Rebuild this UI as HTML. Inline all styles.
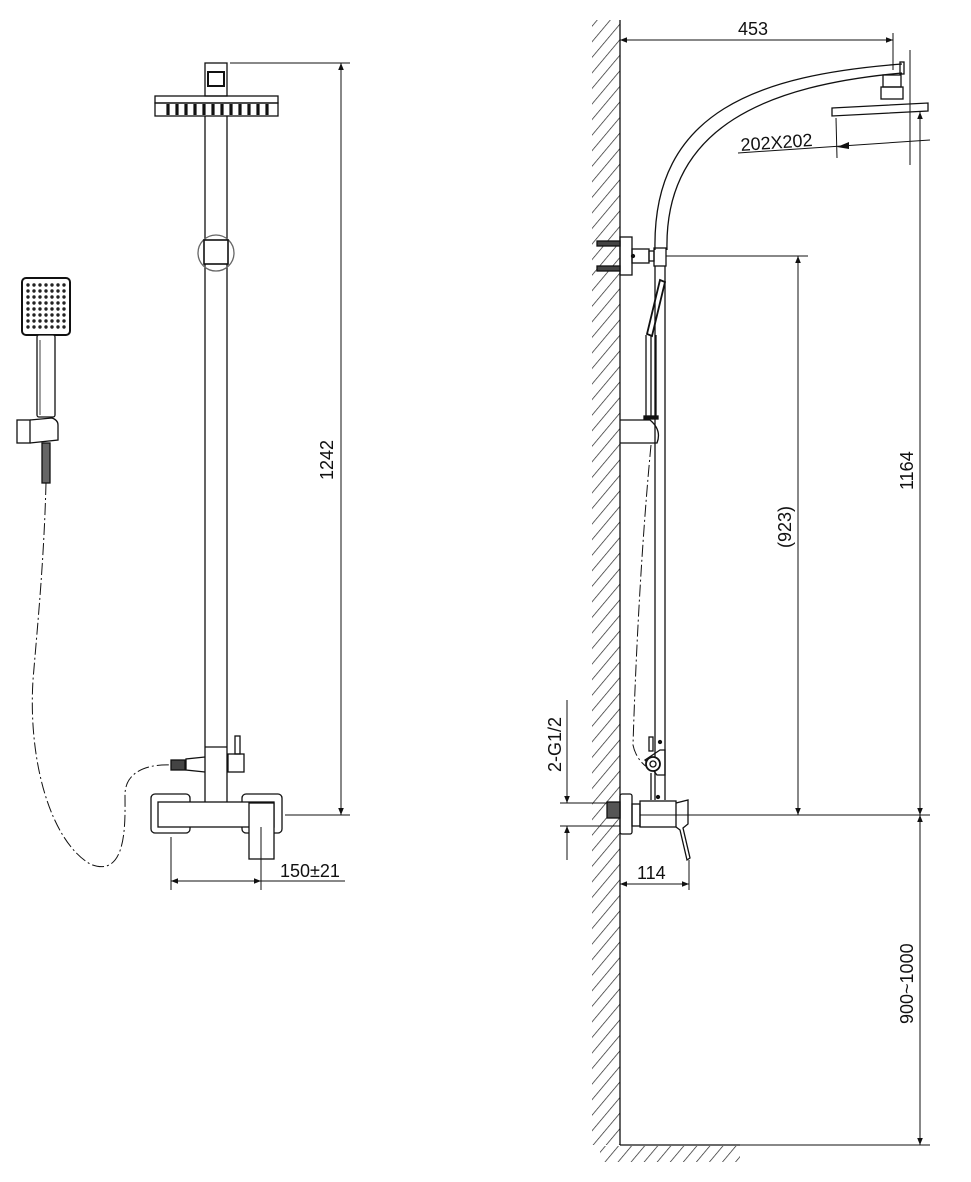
<!DOCTYPE html>
<html><head><meta charset="utf-8"><style>
html,body{margin:0;padding:0;background:#fff}
svg{display:block}
text{font-family:"Liberation Sans",sans-serif;font-size:18px;fill:#111}
</style></head><body>
<svg width="971" height="1182" viewBox="0 0 971 1182" xmlns="http://www.w3.org/2000/svg">
<defs>
<pattern id="h" width="10" height="10" patternUnits="userSpaceOnUse" patternTransform="rotate(40)">
<line x1="0" y1="0" x2="0" y2="10" stroke="#222" stroke-width="1.4"/>
</pattern>
<marker id="a" viewBox="0 0 10 10" refX="10" refY="5" markerWidth="13" markerHeight="7" orient="auto-start-reverse" markerUnits="userSpaceOnUse"><path d="M0,1 L10,5 L0,9z" fill="#111"/></marker>
</defs>
<g fill="none" stroke="#111" stroke-width="1.3">
<!-- LEFT VIEW -->
<rect x="205" y="63" width="22" height="33"/>
<rect x="208" y="72" width="16" height="14" stroke-width="2"/>
<rect x="155" y="96" width="123" height="7"/>
<rect x="155" y="103" width="123" height="13"/>
<g stroke-width="3.2">
<line x1="168" y1="104" x2="168" y2="115"/><line x1="177" y1="104" x2="177" y2="115"/><line x1="186" y1="104" x2="186" y2="115"/><line x1="195" y1="104" x2="195" y2="115"/><line x1="204" y1="104" x2="204" y2="115"/><line x1="213" y1="104" x2="213" y2="115"/><line x1="222" y1="104" x2="222" y2="115"/><line x1="231" y1="104" x2="231" y2="115"/><line x1="240" y1="104" x2="240" y2="115"/><line x1="249" y1="104" x2="249" y2="115"/><line x1="258" y1="104" x2="258" y2="115"/><line x1="267" y1="104" x2="267" y2="115"/>
</g>
<line x1="205" y1="116" x2="205" y2="802"/><line x1="227" y1="116" x2="227" y2="802"/>
<circle cx="216" cy="253" r="18" stroke="#666"/>
<rect x="204" y="240" width="24" height="24" fill="#fff" stroke-width="1.6"/>
<line x1="205" y1="747" x2="227" y2="747"/>
<rect x="228" y="754" width="16" height="18"/>
<rect x="235" y="736" width="5" height="18"/>
<path d="M205,757 L186,759 L186,770 L205,772"/>
<rect x="171" y="760" width="14" height="10" fill="#444"/>
<rect x="151" y="794" width="39" height="39" rx="4"/>
<rect x="242" y="794" width="40" height="39" rx="4"/>
<rect x="158" y="802" width="116" height="25" fill="#fff"/>
<rect x="249" y="803" width="25" height="56" fill="#fff"/>
<line x1="261" y1="827" x2="261" y2="890" stroke-width="1"/>
<!-- hand shower -->
<rect x="22" y="278" width="48" height="57" rx="4" stroke-width="2"/>
<g fill="#222" stroke="none">
<g id="row"><circle cx="28" cy="285" r="1.7"/><circle cx="34" cy="285" r="1.7"/><circle cx="40" cy="285" r="1.7"/><circle cx="46" cy="285" r="1.7"/><circle cx="52" cy="285" r="1.7"/><circle cx="58" cy="285" r="1.7"/><circle cx="64" cy="285" r="1.7"/></g>
<use href="#row" y="6"/><use href="#row" y="12"/><use href="#row" y="18"/><use href="#row" y="24"/><use href="#row" y="30"/><use href="#row" y="36"/><use href="#row" y="42"/>
</g>
<rect x="37" y="335" width="18" height="82" rx="2" fill="#fff"/>
<line x1="40" y1="340" x2="40" y2="415" stroke-width="0.8"/>
<rect x="17" y="420" width="13" height="23"/>
<path d="M30,420 L52,418 Q58,420 58,425 L58,440 L30,443"/>
<rect x="42" y="443" width="8" height="40" fill="#666"/>
<path d="M46,483 C44,560 38,620 33,680 C28,760 50,840 90,864 C128,880 125,820 125,795 C125,770 150,764 171,765" stroke-dasharray="12,3,2,3" stroke-width="1"/>
<!-- dims left -->
<g stroke-width="1">
<line x1="230" y1="63" x2="350" y2="63"/>
<line x1="285" y1="815" x2="350" y2="815"/>
<line x1="341" y1="63" x2="341" y2="815" marker-start="url(#a)" marker-end="url(#a)"/>
<line x1="171" y1="837" x2="171" y2="890"/>
<line x1="171" y1="881" x2="261" y2="881" marker-start="url(#a)" marker-end="url(#a)"/>
<line x1="261" y1="881" x2="345" y2="881"/>
</g>
<!-- RIGHT VIEW -->
<rect x="592" y="20" width="28" height="1125" fill="url(#h)" stroke="none"/>
<rect x="600" y="1146" width="140" height="16" fill="url(#h)" stroke="none"/>
<line x1="620" y1="20" x2="620" y2="1145"/>
<line x1="620" y1="1145" x2="740" y2="1145"/>
<!-- arm -->
<path d="M655,250 C652,110 760,75 902,64"/>
<path d="M667,250 C664,125 770,85 902,73"/>
<rect x="900" y="62" width="4" height="12"/>
<rect x="883" y="75" width="18" height="12"/>
<rect x="881" y="87" width="22" height="12"/>
<path d="M832,108 L928,103 L928,111 L832,116z"/>
<!-- bracket -->
<rect x="620" y="237" width="12" height="38"/>
<rect x="597" y="241" width="23" height="5" fill="#444"/>
<rect x="597" y="266" width="23" height="5" fill="#444"/>
<rect x="632" y="249" width="17" height="14"/>
<rect x="649" y="251" width="5" height="10"/>
<rect x="654" y="248" width="12" height="18"/>
<circle cx="633" cy="256" r="1.5" fill="#111"/>
<!-- rail -->
<line x1="655" y1="266" x2="655" y2="800"/><line x1="665" y1="266" x2="665" y2="800"/>
<!-- hand shower side -->
<path d="M660,280 L665,282 L652,336 L647,334z" stroke-width="1.8"/>
<line x1="646" y1="335" x2="646" y2="418"/><line x1="651" y1="335" x2="651" y2="418"/><line x1="656" y1="335" x2="656" y2="418"/>
<rect x="644" y="416" width="14" height="3" fill="#111"/>
<path d="M620,420 L650,420 Q662,430 657,443 L620,443"/>
<path d="M651,445 C640,560 635,680 633,745 C636,760 648,770 652,768" stroke-dasharray="12,3,2,3" stroke-width="1"/>
<rect x="649" y="737" width="4" height="14"/>
<circle cx="660" cy="742" r="1.5" fill="#111"/>
<path d="M645,760 L660,750 L665,750 L665,775 L657,775 Z" fill="none"/>
<circle cx="653" cy="764" r="7" fill="#fff" stroke-width="1.8"/>
<circle cx="653" cy="764" r="3"/>
<line x1="651" y1="773" x2="651" y2="800"/><circle cx="658" cy="797" r="1.5" fill="#111"/>
<!-- valve -->
<rect x="607" y="802" width="13" height="16" fill="#555"/>
<rect x="620" y="794" width="12" height="40" rx="2"/>
<rect x="632" y="804" width="8" height="22"/>
<rect x="640" y="801" width="36" height="26"/>
<path d="M676,803 L688,800 L688,824 L683,828 L690,858 L687,860 L680,830 L676,827"/>
<g stroke-width="1">
<line x1="560" y1="803" x2="607" y2="803"/><line x1="560" y1="826" x2="620" y2="826"/>
<line x1="640" y1="815" x2="930" y2="815"/>
<line x1="567" y1="700" x2="567" y2="803" marker-end="url(#a)"/>
<line x1="567" y1="826" x2="567" y2="860" marker-start="url(#a)"/>
<line x1="620" y1="40" x2="893" y2="40" marker-start="url(#a)" marker-end="url(#a)"/>
<line x1="893" y1="33" x2="893" y2="70"/>
<line x1="738" y1="153" x2="930" y2="140" />
<line x1="836" y1="118" x2="837" y2="158"/>
<path d="M837,147 L849,142 L849,149z" fill="#111" stroke="none"/>
<line x1="910" y1="50" x2="910" y2="165"/>
<line x1="920" y1="112" x2="920" y2="815" marker-start="url(#a)" marker-end="url(#a)"/>
<line x1="666" y1="256" x2="808" y2="256"/>
<line x1="798" y1="256" x2="798" y2="815" marker-start="url(#a)" marker-end="url(#a)"/>
<line x1="689" y1="860" x2="689" y2="890"/>
<line x1="620" y1="884" x2="689" y2="884" marker-start="url(#a)" marker-end="url(#a)"/>
<line x1="920" y1="815" x2="920" y2="1145" marker-start="url(#a)" marker-end="url(#a)"/>
<line x1="740" y1="1145" x2="930" y2="1145"/>
</g>
</g>
<text x="738" y="35">453</text>
<text x="0" y="0" transform="translate(741,151) rotate(-4)">202X202</text>
<text x="0" y="0" transform="translate(913,490) rotate(-90)">1164</text>
<text x="0" y="0" transform="translate(791,548) rotate(-90)">(923)</text>
<text x="0" y="0" transform="translate(561,772) rotate(-90)">2-G1/2</text>
<text x="637" y="879">114</text>
<text x="0" y="0" transform="translate(913,1024) rotate(-90)">900~1000</text>
<text x="0" y="0" transform="translate(333,480) rotate(-90)">1242</text>
<text x="280" y="877">150±21</text>
</svg>
</body></html>
